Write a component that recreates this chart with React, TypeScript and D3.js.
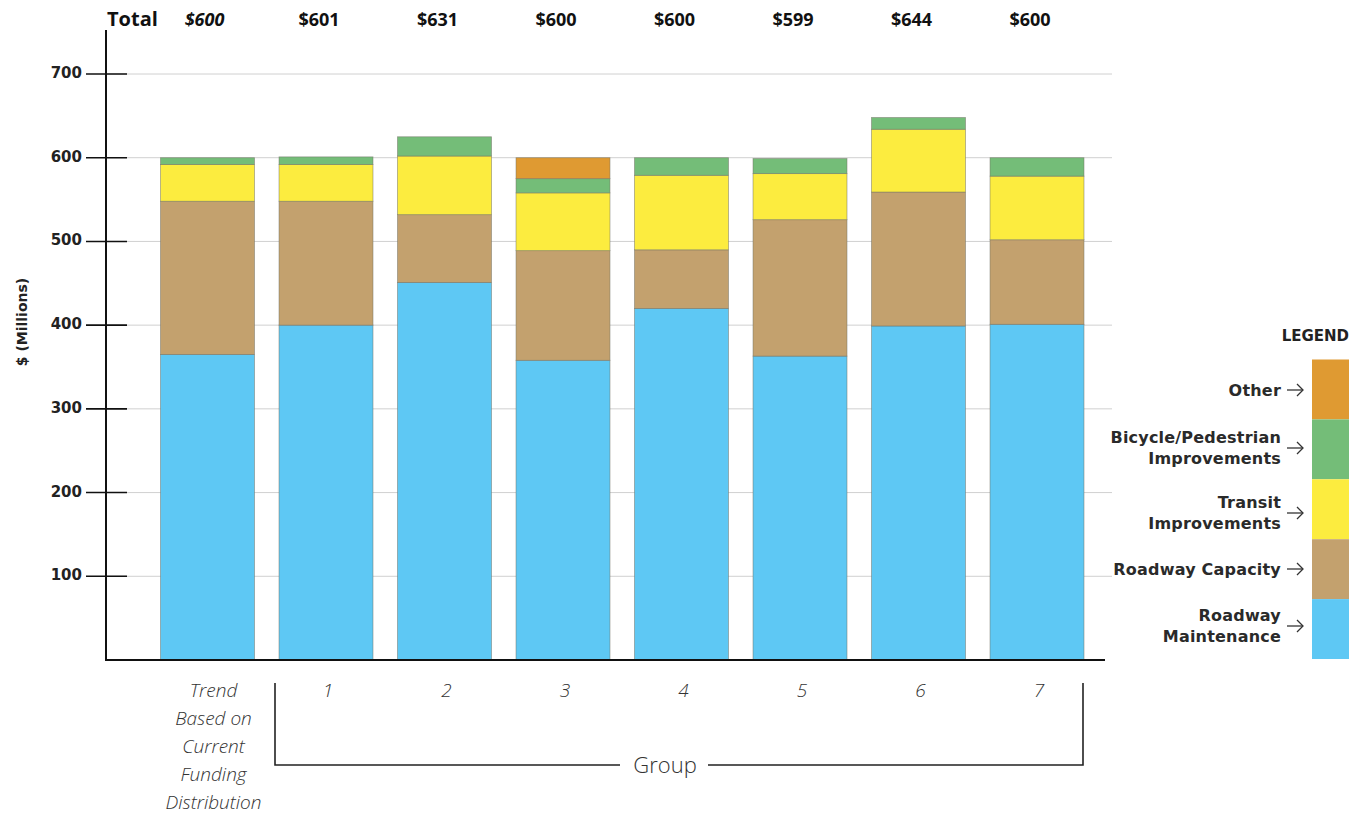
import React from "react";
import * as d3 from "d3";

const categories = ["trend", "1", "2", "3", "4", "5", "6", "7"];
const categoryLabels = [
  ["Trend", "Based on", "Current", "Funding", "Distribution"],
  ["1"], ["2"], ["3"], ["4"], ["5"], ["6"], ["7"],
];
const totals = ["$600", "$601", "$631", "$600", "$600", "$599", "$644", "$600"];

const seriesNames = ["Roadway Maintenance", "Roadway Capacity", "Transit Improvements", "Bicycle/Pedestrian Improvements", "Other"];
const roadwayMaintenance = [365, 400, 451, 358, 420, 363, 399, 401];
const roadwayCapacity = [183, 148, 81, 131, 70, 163, 160, 101];
const transitImprovements = [44, 44, 70, 69, 89, 55, 75, 76];
const bicyclePedestrian = [8, 9, 23, 17, 21, 18, 14, 22];
const other = [0, 0, 0, 25, 0, 0, 0, 0];
const seriesColors = ["#5ec8f4", "#c3a16e", "#fcec3f", "#74bd78", "#df9a32"];
const yTicks = [100, 200, 300, 400, 500, 600, 700];

const legendItems = [
  { lines: ["Other"], key: 4 },
  { lines: ["Bicycle/Pedestrian", "Improvements"], key: 3 },
  { lines: ["Transit", "Improvements"], key: 2 },
  { lines: ["Roadway Capacity"], key: 1 },
  { lines: ["Roadway", "Maintenance"], key: 0 },
];

const FONT = "'Open Sans', 'DejaVu Sans', sans-serif";
const WIDE = "'DejaVu Sans', 'Open Sans', sans-serif";

export default function App() {
  const W = 1362, H = 814;
  const y = d3.scaleLinear().domain([0, 700]).range([660, 74]);
  const x = d3.scaleBand<string>().domain(categories).range([148.25, 1096.25]).paddingInner(0.207).paddingOuter(0.1035);

  const rows = categories.map((c, i) => ({
    cat: c,
    s0: roadwayMaintenance[i],
    s1: roadwayCapacity[i],
    s2: transitImprovements[i],
    s3: bicyclePedestrian[i],
    s4: other[i],
  }));
  const stack = d3.stack<any>().keys(["s0", "s1", "s2", "s3", "s4"]);
  const layers = stack(rows);

  const legendScale = d3.scaleBand<number>().domain([4, 3, 2, 1, 0]).range([359.5, 659]);
  const legendY: Record<number, number> = { 4: 390, 3: 447, 2: 512, 1: 569, 0: 625 };

  const arrow = (ax: number, ay: number) => (
    <g stroke="#333" strokeWidth={1.3} fill="none">
      <line x1={ax} y1={ay} x2={ax + 16} y2={ay} />
      <polyline points={`${ax + 10},${ay - 6} ${ax + 16},${ay} ${ax + 10},${ay + 6}`} />
    </g>
  );

  const cx = (i: number) => (x(categories[i]) as number) + x.bandwidth() / 2;

  return (
    <svg width={W} height={H} style={{ position: "absolute", left: 0, top: 0, background: "#fff" }} fontFamily={FONT}>
      {/* gridlines */}
      {yTicks.map((t) => (
        <line key={"g" + t} x1={106} x2={1112} y1={y(t)} y2={y(t)} stroke="#d0d0d0" strokeWidth={1} />
      ))}
      {/* bars */}
      {layers.map((layer, li) =>
        layer.map((d, i) => {
          const h = y(d[0]) - y(d[1]);
          if (h <= 0) return null;
          return (
            <rect key={li + "-" + i} x={x(categories[i])} width={x.bandwidth()} y={y(d[1])} height={h}
              fill={seriesColors[li]} stroke="#6f6f62" strokeOpacity={0.6} strokeWidth={0.8} />
          );
        })
      )}
      {/* axes */}
      <line x1={106} x2={106} y1={30} y2={661} stroke="#111" strokeWidth={2} />
      <line x1={105} x2={1105} y1={660} y2={660} stroke="#111" strokeWidth={2} />
      {yTicks.map((t) => (
        <g key={"t" + t}>
          <line x1={86} x2={127} y1={y(t)} y2={y(t)} stroke="#111" strokeWidth={1.6} />
          <text x={82} y={y(t) - 1} dominantBaseline="central" textAnchor="end" fontFamily={WIDE} fontSize={15} fontWeight={700} fill="#222">{t}</text>
        </g>
      ))}
      <text transform="translate(27,322) rotate(-90)" textAnchor="middle" fontFamily={WIDE} fontSize={14} fontWeight={700} fill="#222">$ (Millions)</text>

      {/* totals */}
      <text x={107} y={26} fontSize={20} fontWeight={700} fill="#111">Total</text>
      {totals.map((t, i) => (
        <text key={"tot" + i} x={cx(i) - (i === 0 ? 3 : 7)} y={26}
          textAnchor="middle" fontSize={18} fontWeight={700} fontStyle={i === 0 ? "italic" : "normal"} fill="#111">{t}</text>
      ))}

      {/* category labels */}
      {categoryLabels.map((lines, i) => (
        <text key={"c" + i} x={cx(i) + (i === 0 ? 6 : 2)} y={697}
          textAnchor="middle" fontSize={19} fontWeight={300} fontStyle="italic" fill="#333">
          {lines.map((l, j) => (
            <tspan key={j} x={cx(i) + (i === 0 ? 6 : 2)} dy={j === 0 ? 0 : 28}>{l}</tspan>
          ))}
        </text>
      ))}

      {/* group bracket */}
      <g stroke="#222" strokeWidth={1.6} fill="none">
        <polyline points={`275,683 275,765 620,765`} />
        <polyline points={`708,765 1083,765 1083,683`} />
      </g>
      <text x={665} y={773} textAnchor="middle" fontSize={22} fontWeight={300} fill="#333">Group</text>

      {/* legend */}
      <text x={1349} y={341} textAnchor="end" fontFamily={WIDE} fontSize={15} fontWeight={700} fill="#222">LEGEND</text>
      {legendItems.map((it) => (
        <rect key={"lr" + it.key} x={1312} width={37} y={legendScale(it.key)} height={legendScale.bandwidth()}
          fill={seriesColors[it.key]} />
      ))}
      {legendItems.map((it) => {
        const cy = legendY[it.key];
        const n = it.lines.length;
        return (
          <g key={"lt" + it.key}>
            <text textAnchor="end" fontFamily={WIDE} fontSize={16} fontWeight={700} letterSpacing={0.2} fill="#2a2a2a">
              {it.lines.map((l, j) => (
                <tspan key={j} x={1281} y={cy + 6 + (j - (n - 1) / 2) * 21}>{l}</tspan>
              ))}
            </text>
            {arrow(1287, cy + (n > 1 ? 1 : 0))}
          </g>
        );
      })}
    </svg>
  );
}
